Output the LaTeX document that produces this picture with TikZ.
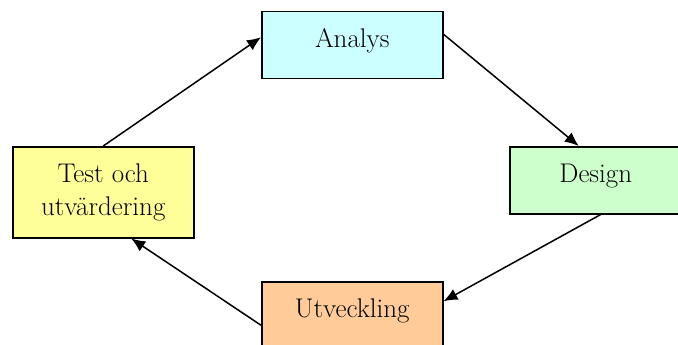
\documentclass[tikz,border=0pt]{standalone}
\usepackage{fontspec}
\usetikzlibrary{positioning,arrows.meta}
\definecolor{analyscol}{HTML}{CCFFFF}
\definecolor{designcol}{HTML}{CCFFCC}
\definecolor{testcol}{HTML}{FFFF99}
\definecolor{utvcol}{HTML}{FFCC99}

\begin{document}
\begin{tikzpicture}[
x=1pt,y=-1pt,
stage/.style={
  draw,
  line width=1.5pt,
  inner sep=0pt,
  anchor=north west,
  minimum width=181pt,
  align=center,
  font=\fontsize{27}{33}\selectfont
},
onerow/.style={
  text height=36pt,
  text depth=31pt
},
flow/.style={
  line width=1.5pt,
  -{Latex[length=14pt,width=12pt]}
}
]
\useasboundingbox (0,0) rectangle (678,345);

\node[stage,onerow,fill=analyscol] at (261,11) 
  (analys) {Analys};
\node[stage,onerow,fill=designcol,minimum width=172pt] at (509,146) 
  (design) {Design};
\node[stage,onerow,fill=utvcol] at (261,281) 
  (utv) {Utveckling};
\node[stage,fill=testcol,minimum height=91pt] at (12,146) 
  (test) {Test och\\utvärdering};

\draw[flow] (test.north) -- ([yshift=8pt]analys.west);
\draw[flow] ([yshift=11pt]analys.east) -- ([xshift=-17pt]design.north);
\draw[flow] ([xshift=5pt]design.south) -- ([yshift=14pt]utv.east);
\draw[flow] ([yshift=-10pt]utv.west) -- ([xshift=28pt]test.south);
\end{tikzpicture}
\end{document}
